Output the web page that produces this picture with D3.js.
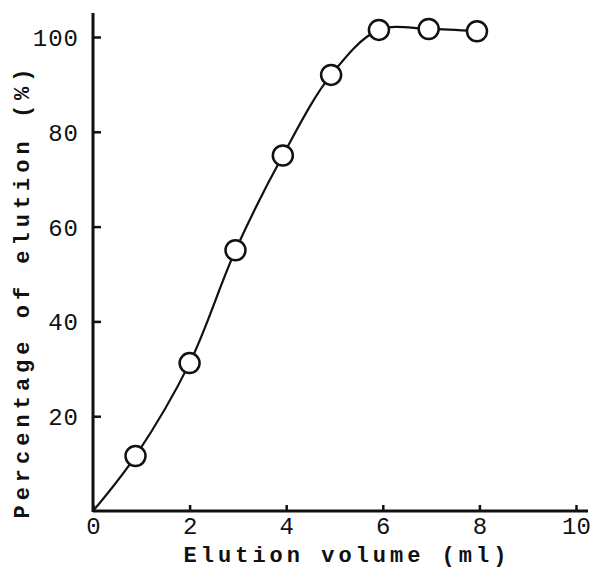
<!DOCTYPE html>
<html>
<head>
<meta charset="utf-8">
<script src="https://cdn.jsdelivr.net/npm/d3@7/dist/d3.min.js"></script>
<style>
  body { margin: 0; background: #fff; }
  svg text { font-family: "Liberation Mono", "DejaVu Sans Mono", monospace; fill: #111; }
</style>
</head>
<body>
<svg id="chart" width="591" height="571"></svg>
<script>
// Data
const volume = [0.88, 2.0, 2.95, 3.93, 4.93, 5.92, 6.95, 7.95];
const elution = [11.6, 31.2, 55.0, 75.0, 92.0, 101.5, 101.7, 101.2];
// Fitted curve goes through the origin, then the points
const curveX = [0].concat(volume);
const curveY = [0].concat(elution);
const xTicks = [0, 2, 4, 6, 8, 10];
const yTicks = [20, 40, 60, 80, 100];

const svg = d3.select('#chart');
const x = d3.scaleLinear().domain([0, 10]).range([93, 576]);
const y = d3.scaleLinear().domain([0, 100]).range([511, 37]);

// Axes
const xAxis = d3.axisBottom(x).tickValues(xTicks).tickSize(-6).tickPadding(9).tickFormat(d3.format('d'));
const yAxis = d3.axisLeft(y).tickValues(yTicks).tickSize(-8).tickPadding(14).tickFormat(d3.format('d'));

const gx = svg.append('g').attr('transform', 'translate(0,' + y(0) + ')').call(xAxis);
gx.select('.domain').remove();
gx.append('line').attr('x1', x(0)).attr('x2', 588).attr('stroke', '#111').attr('stroke-width', 3);
gx.selectAll('.tick line').attr('stroke', '#111').attr('stroke-width', 2.5);
gx.selectAll('.tick text').style('font-size', '24px').attr('dy', '0.6em');

const gy = svg.append('g').attr('transform', 'translate(' + x(0) + ',0)').call(yAxis);
gy.select('.domain').remove();
gy.append('line').attr('y1', y(0) + 1).attr('y2', 13).attr('stroke', '#111').attr('stroke-width', 3);
gy.selectAll('.tick line').attr('stroke', '#111').attr('stroke-width', 2.5);
gy.selectAll('.tick text').style('font-size', '24px').style('letter-spacing', '1px').attr('dy', '0.35em');

// Curve
const line = d3.line().x(d => x(d[0])).y(d => y(d[1])).curve(d3.curveCatmullRom.alpha(0.5));
svg.append('path')
    .datum(d3.zip(curveX, curveY))
    .attr('d', line)
    .attr('fill', 'none')
    .attr('stroke', '#111')
    .attr('stroke-width', 2.2);

// Points
svg.selectAll('circle.pt').data(d3.zip(volume, elution))
  .enter().append('circle')
    .attr('class', 'pt')
    .attr('cx', d => x(d[0]))
    .attr('cy', d => y(d[1]))
    .attr('r', 10)
    .attr('fill', '#fff')
    .attr('stroke', '#111')
    .attr('stroke-width', 2.5);

// Axis labels
svg.append('text')
    .attr('x', 347).attr('y', 562)
    .attr('text-anchor', 'middle')
    .style('font-size', '22px').style('font-weight', 'bold').style('letter-spacing', '4px')
    .text('Elution volume (ml)');

svg.append('text')
    .attr('transform', 'translate(29,291) rotate(-90)')
    .attr('text-anchor', 'middle')
    .style('font-size', '22px').style('font-weight', 'bold').style('letter-spacing', '5px')
    .text('Percentage of elution (%)');
</script>
</body>
</html>
